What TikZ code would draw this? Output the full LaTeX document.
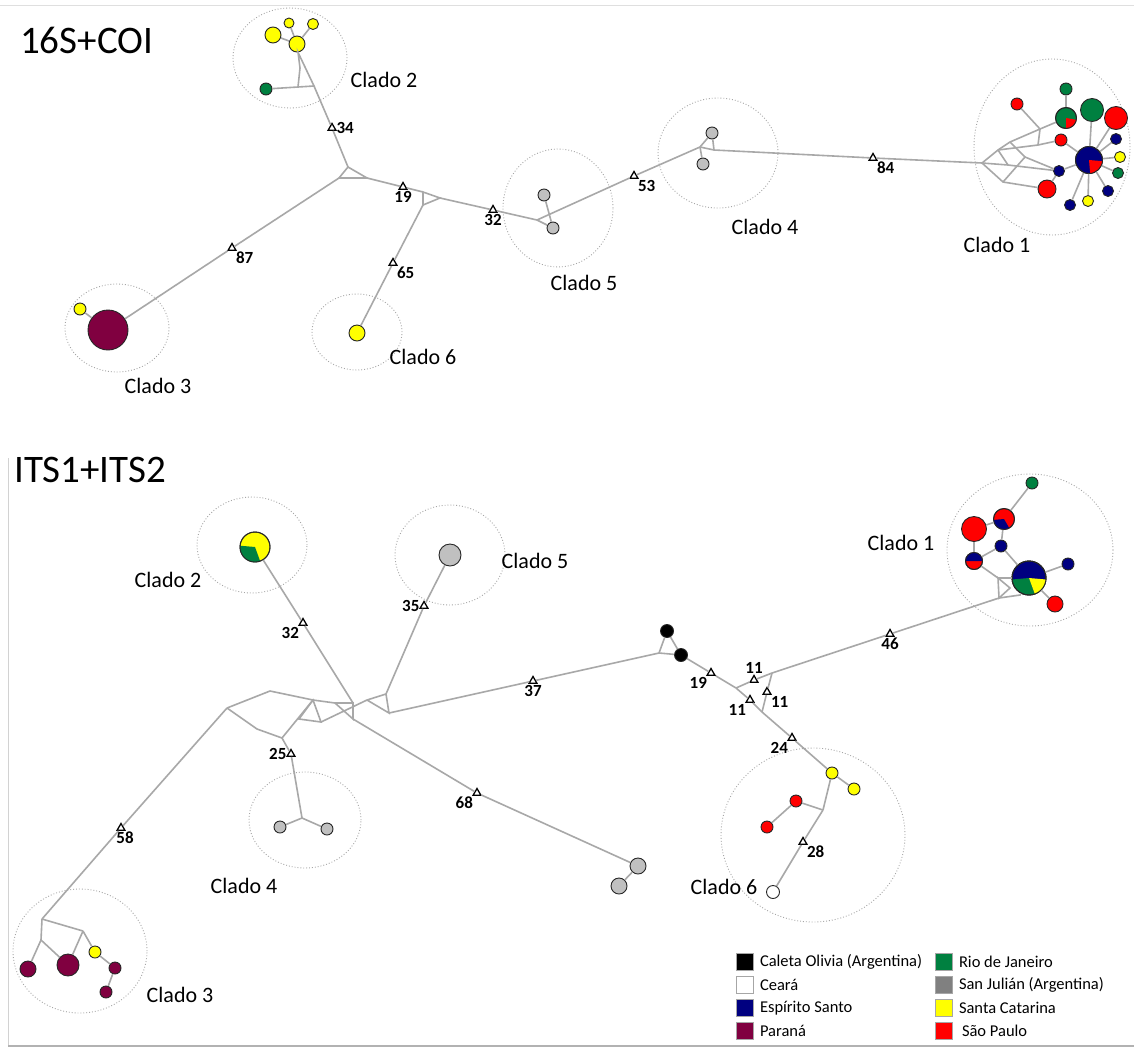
\documentclass[tikz,border=0pt]{standalone}
\usepackage{fontspec}
\setmainfont{Carlito}
\usetikzlibrary{shapes.geometric}
\definecolor{esnavy}{RGB}{0,0,128}
\definecolor{rjgreen}{RGB}{0,128,64}
\definecolor{prmaroon}{RGB}{128,0,64}
\definecolor{scyellow}{RGB}{255,255,0}
\definecolor{spred}{RGB}{255,0,0}
\definecolor{sjgray}{RGB}{192,192,192}
\definecolor{sjkey}{RGB}{128,128,128}
\definecolor{linegray}{RGB}{168,168,168}

\tikzset{
  hap/.style={circle, draw=black!85, line width=0.9pt, inner sep=0pt, minimum size=#1},
  link/.style={draw=linegray, line width=1.6pt},
  mut/.style={regular polygon, regular polygon sides=3, draw=black, fill=white, line width=1.3pt, inner sep=0pt, minimum size=9pt},
  num/.style={font=\bfseries\fontsize{17}{17}\selectfont, inner sep=1pt},
  clado/.style={draw=gray!70, dotted, line width=0.9pt},
  cladolbl/.style={font=\fontsize{22}{22}\selectfont},
  paneltitle/.style={font=\fontsize{39}{39}\selectfont, anchor=west, inner sep=0pt},
  key/.style={draw=gray!70, line width=0.6pt, minimum size=17pt, inner sep=0pt},
  keytext/.style={font=\fontsize{16.5}{16.5}\selectfont, inner sep=0pt, xshift=6pt}
}

% slice of a haplotype pie: node, colour, from, to, radius
\newcommand{\hapslice}[5]{%
  \fill[#2] (#1.center) -- ++(#3:#5pt) arc[start angle=#3, end angle=#4, radius=#5pt] -- cycle;
  \draw[black!85, line width=0.9pt] (#1.center) circle[radius=#5pt];}

\begin{document}
\begin{tikzpicture}[x=1pt, y=-1pt]
\useasboundingbox (0,0) rectangle (1134,1050);
\fill[white] (0,0) rectangle (1134,1050);

% frames
\draw[gray!25, line width=0.8pt] (0,5) -- (1134,5);
\draw[gray!35, line width=0.8pt] (8,458) -- (8,1046);
\draw[gray!60, line width=1.2pt] (8,1046) -- (1134,1046);

\node[paneltitle] (ttop) at (20,40) {16S+COI};
\node[paneltitle] (tbot) at (14,470) {ITS1+ITS2};

%%%%%%%%%%%%%%%% 16S+COI
\draw[clado] (290,58) ellipse [x radius=57pt, y radius=50pt];
\draw[clado] (1052,147) ellipse [x radius=78pt, y radius=88pt];
\draw[clado] (117,328) ellipse [x radius=52pt, y radius=44pt];
\draw[clado] (357,332) ellipse [x radius=45pt, y radius=38pt];
\draw[clado] (558,208) ellipse [x radius=55pt, y radius=59pt];
\draw[clado] (718,153) ellipse [x radius=60pt, y radius=55pt];

\node[cladolbl] (l2) at (384,80) {Clado 2};
\node[cladolbl] (l1) at (997,245) {Clado 1};
\node[cladolbl] (l5) at (584,283) {Clado 5};
\node[cladolbl] (l4) at (765,227) {Clado 4};
\node[cladolbl] (l3) at (158,386) {Clado 3};
\node[cladolbl] (l6) at (423,357) {Clado 6};

% haplotypes
\node[hap=16, fill=scyellow] (c2y1) at (273,35) {};
\node[hap=10, fill=scyellow] (c2y2) at (289,23) {};
\node[hap=11, fill=scyellow] (c2y3) at (313,24) {};
\node[hap=16, fill=scyellow] (c2y4) at (297,44) {};
\node[hap=12, fill=rjgreen] (c2g) at (266,89) {};
\node[hap=40, fill=prmaroon] (c3m) at (108,330) {};
\node[hap=12, fill=scyellow] (c3y) at (80,309) {};
\node[hap=16, fill=scyellow] (c6y) at (357,333) {};
\node[hap=12, fill=sjgray] (c5a) at (544,195) {};
\node[hap=12, fill=sjgray] (c5b) at (553,228) {};
\node[hap=12, fill=sjgray] (c4a) at (712,133) {};
\node[hap=12, fill=sjgray] (c4b) at (703,164) {};

\node[hap=12, fill=spred] (c1rTL) at (1017,104) {};
\node[hap=12, fill=rjgreen] (c1gT) at (1066,89) {};
\node[hap=21, fill=rjgreen] (c1gr) at (1066,118) {};
\hapslice{c1gr}{spred}{270}{350}{10.5}
\node[hap=23, fill=rjgreen] (c1gB) at (1092,110) {};
\node[hap=23, fill=spred] (c1rB) at (1116,118) {};
\node[hap=12, fill=spred] (c1rs) at (1061,140) {};
\node[hap=27, fill=esnavy] (c1nc) at (1089,160) {};
\hapslice{c1nc}{spred}{275}{355}{13.5}
\node[hap=11, fill=esnavy] (c1n1) at (1116,139) {};
\node[hap=11, fill=scyellow] (c1y1) at (1120,157) {};
\node[hap=11, fill=rjgreen] (c1g2) at (1118,173) {};
\node[hap=11, fill=esnavy] (c1n2) at (1108,191) {};
\node[hap=11, fill=scyellow] (c1y2) at (1088,201) {};
\node[hap=11, fill=esnavy] (c1n3) at (1070,205) {};
\node[hap=11, fill=esnavy] (c1nl) at (1059,171) {};
\node[hap=18, fill=spred] (c1rb) at (1047,189) {};

% median vectors
\coordinate (t1) at (300,68);
\coordinate (t2) at (298,87);
\coordinate (t3) at (314,86);
\coordinate (j1a) at (348,167);
\coordinate (j1b) at (339,178);
\coordinate (j1c) at (367,178);
\coordinate (j2a) at (423,192);
\coordinate (j2b) at (423,205);
\coordinate (j2c) at (440,198);
\coordinate (j3a) at (537,220);
\coordinate (j3b) at (548,215);
\coordinate (j4a) at (700,147);
\coordinate (j4b) at (714,150);
\coordinate (r1) at (982,163);
\coordinate (r2) at (998,150);
\coordinate (r3) at (1010,142);
\coordinate (r4) at (1040,129);
\coordinate (r5) at (1008,165);
\coordinate (r6) at (1025,157);
\coordinate (r7) at (1003,182);
\coordinate (r8) at (1038,145);

% mutation steps
\node[mut, label={[num]right:34}] (m34) at (332,128) {};
\node[mut, label={[num]below right:87}] (m87) at (232,248) {};
\node[mut, label={[num]below:19}] (m19) at (403,187) {};
\node[mut, label={[num]below right:65}] (m65) at (393,263) {};
\node[mut, label={[num]below:32}] (m32) at (493,210) {};
\node[mut, label={[num]below right:53}] (m53) at (634,176) {};
\node[mut, label={[num]below right:84}] (m84) at (873,158) {};

\draw[link] (c2y1) -- (c2y4);
\draw[link] (c2y2) -- (c2y4);
\draw[link] (c2y3) -- (c2y4);
\draw[link] (c2y4) -- (t1) -- (t2) -- (t3) -- cycle;
\draw[link] (c2g) -- (t2);
\draw[link] (t3) -- (m34) -- (j1a);
\draw[link] (j1a) -- (j1b) -- (j1c) -- cycle;
\draw[link] (j1b) -- (m87) -- (c3m);
\draw[link] (c3y) -- (c3m);
\draw[link] (j1c) -- (m19) -- (j2a);
\draw[link] (j2a) -- (j2b) -- (j2c) -- cycle;
\draw[link] (j2b) -- (m65) -- (c6y);
\draw[link] (j2c) -- (m32) -- (j3a);
\draw[link] (j3a) -- (c5b);
\draw[link] (j3a) -- (j3b);
\draw[link] (c5a) -- (c5b);
\draw[link] (j3b) -- (m53) -- (j4a);
\draw[link] (j4a) -- (c4a);
\draw[link] (j4b) -- (c4a);
\draw[link] (j4a) -- (j4b);
\draw[link] (j4a) -- (c4b);
\draw[link] (j4b) -- (m84) -- (r1);
\draw[link] (r1) -- (r2) -- (r3) -- (r4) -- (c1gr);
\draw[link] (r1) -- (r5) -- (c1nl);
\draw[link] (r1) -- (r7) -- (c1rb);
\draw[link] (r2) -- (r5);
\draw[link] (r3) -- (r6) -- (r7);
\draw[link] (r2) -- (r8) -- (c1rs);
\draw[link] (r4) -- (r8);
\draw[link] (c1rTL) -- (r4);
\draw[link] (r6) -- (c1nl);
\draw[link] (c1gT) -- (c1gr);
\draw[link] (c1rb) -- (c1nl);
\foreach \h in {c1gB,c1rB,c1n1,c1y1,c1g2,c1n2,c1y2,c1n3,c1rs,c1nl}
  \draw[link] (c1nc) -- (\h);

%%%%%%%%%%%%%%%% ITS1+ITS2
\draw[clado] (252,545) ellipse [x radius=55pt, y radius=48pt];
\draw[clado] (450,555) ellipse [x radius=55pt, y radius=50pt];
\draw[clado] (1030,550) ellipse [x radius=83pt, y radius=76pt];
\draw[clado] (305,820) ellipse [x radius=56pt, y radius=48pt];
\draw[clado] (813,835) ellipse [x radius=92pt, y radius=87pt];
\draw[clado] (80,951) ellipse [x radius=67pt, y radius=62pt];

\node[cladolbl] (bl2) at (168,580) {Clado 2};
\node[cladolbl] (bl5) at (535,561) {Clado 5};
\node[cladolbl] (bl1) at (901,543) {Clado 1};
\node[cladolbl] (bl4) at (244,886) {Clado 4};
\node[cladolbl] (bl6) at (724,887) {Clado 6};
\node[cladolbl] (bl3) at (180,995) {Clado 3};

% haplotypes
\node[hap=30, fill=scyellow] (b2) at (255,547) {};
\hapslice{b2}{rjgreen}{175}{290}{15}
\node[hap=22, fill=sjgray] (b5) at (450,555) {};
\node[hap=12, fill=sjgray] (b4a) at (280,827) {};
\node[hap=12, fill=sjgray] (b4b) at (327,829) {};
\node[hap=16, fill=sjgray] (g68a) at (638,866) {};
\node[hap=16, fill=sjgray] (g68b) at (619,886) {};
\node[hap=13, fill=black] (bk1) at (667,631) {};
\node[hap=13, fill=black] (bk2) at (681,655) {};
\node[hap=16, fill=prmaroon] (b3m1) at (28,969) {};
\node[hap=22, fill=prmaroon] (b3m2) at (68,965) {};
\node[hap=12, fill=scyellow] (b3y) at (95,952) {};
\node[hap=12, fill=prmaroon] (b3m3) at (115,968) {};
\node[hap=12, fill=prmaroon] (b3m4) at (106,992) {};
\node[hap=12, fill=scyellow] (b6y1) at (832,773) {};
\node[hap=12, fill=scyellow] (b6y2) at (854,789) {};
\node[hap=12, fill=spred] (b6r1) at (796,801) {};
\node[hap=12, fill=spred] (b6r2) at (767,827) {};
\node[hap=13, fill=white] (b6w) at (773,892) {};
\node[hap=12, fill=rjgreen] (bc1g) at (1032,483) {};
\node[hap=21, fill=spred] (bc1rn) at (1004,519) {};
\hapslice{bc1rn}{esnavy}{185}{300}{10.5}
\node[hap=25, fill=spred] (bc1r) at (974,529) {};
\node[hap=12, fill=esnavy] (bc1n) at (1001,546) {};
\node[hap=17, fill=spred] (bc1nr) at (974,561) {};
\hapslice{bc1nr}{esnavy}{0}{180}{8.5}
\node[hap=34, fill=esnavy] (bc1pie) at (1029,578) {};
\hapslice{bc1pie}{rjgreen}{185}{290}{17}
\hapslice{bc1pie}{scyellow}{290}{355}{17}
\node[hap=12, fill=esnavy] (bc1n2) at (1068,564) {};
\node[hap=16, fill=spred] (bc1r2) at (1055,604) {};

% median vectors
\coordinate (h1) at (227,708);
\coordinate (h2) at (270,691);
\coordinate (h3) at (313,700);
\coordinate (h4) at (257,729);
\coordinate (h5) at (282,738);
\coordinate (h6) at (299,719);
\coordinate (h7) at (321,722);
\coordinate (h8) at (335,703);
\coordinate (h9) at (353,703);
\coordinate (h10) at (353,719);
\coordinate (h11) at (367,700);
\coordinate (h12) at (386,694);
\coordinate (h13) at (389,713);
\coordinate (b4j) at (302,818);
\coordinate (b3j) at (42,919);
\coordinate (b3k) at (83,931);
\coordinate (b3l) at (41,940);
\coordinate (k0) at (659,653);
\coordinate (k1) at (736,688);
\coordinate (k2) at (772,673);
\coordinate (k3) at (762,712);
\coordinate (b6j) at (823,810);
\coordinate (bq1) at (998,578);
\coordinate (bq2) at (999,598);
\coordinate (bq3) at (1010,588);
\coordinate (bq4) at (1020,595);

% mutation steps
\node[mut, label={[num]below left:32}] (m32b) at (303,623) {};
\node[mut, label={[num]left:35}] (m35) at (424,606) {};
\node[mut, label={[num]left:25}] (m25) at (291,754) {};
\node[mut, label={[num, xshift=4pt]below:58}] (m58) at (121,828) {};
\node[mut, label={[num]below left:68}] (m68) at (477,793) {};
\node[mut, label={[num]below:37}] (m37) at (533,681) {};
\node[mut, label={[num]below left:19}] (m19b) at (711,673) {};
\node[mut, label={[num]above:11}] (m11a) at (754,680) {};
\node[mut, label={[num]below right:11}] (m11b) at (767,692) {};
\node[mut, label={[num]below left:11}] (m11c) at (750,700) {};
\node[mut, label={[num]below left:24}] (m24) at (792,738) {};
\node[mut, label={[num]below:46}] (m46) at (890,634) {};
\node[mut, label={[num]below right:28}] (m28) at (803,842) {};

\draw[link] (h1) -- (h2) -- (h3);
\draw[link] (h1) -- (h4) -- (h5) -- (h3);
\draw[link] (h3) -- (h6) -- (h7) -- cycle;
\draw[link] (h3) -- (h8) -- (h9) -- (h10) -- (h8);
\draw[link] (h7) -- (h11) -- (h12) -- (h13) -- (h11);
\draw[link] (b2) -- (m32b) -- (h9);
\draw[link] (b5) -- (m35) -- (h12);
\draw[link] (h5) -- (m25) -- (b4j);
\draw[link] (b4j) -- (b4a);
\draw[link] (b4j) -- (b4b);
\draw[link] (h10) -- (m68) -- (g68a);
\draw[link] (g68a) -- (g68b);
\draw[link] (h1) -- (m58) -- (b3j);
\draw[link] (b3j) -- (b3k);
\draw[link] (b3j) -- (b3l);
\draw[link] (b3l) -- (b3m1);
\draw[link] (b3l) -- (b3m2);
\draw[link] (b3k) -- (b3m2);
\draw[link] (b3k) -- (b3y);
\draw[link] (b3y) -- (b3m3);
\draw[link] (b3m3) -- (b3m4);
\draw[link] (h13) -- (m37) -- (k0);
\draw[link] (k0) -- (bk1);
\draw[link] (k0) -- (bk2);
\draw[link] (bk1) -- (bk2);
\draw[link] (bk2) -- (m19b) -- (k1);
\draw[link] (k1) -- (m11a) -- (k2);
\draw[link] (k2) -- (m11b) -- (k3);
\draw[link] (k1) -- (m11c) -- (k3);
\draw[link] (k3) -- (m24) -- (b6y1);
\draw[link] (b6y1) -- (b6y2);
\draw[link] (b6y1) -- (b6j);
\draw[link] (b6j) -- (b6r1);
\draw[link] (b6r1) -- (b6r2);
\draw[link] (b6j) -- (m28) -- (b6w);
\draw[link] (k2) -- (m46) -- (bq2);
\draw[link] (bq1) -- (bq2) -- (bq3) -- cycle;
\draw[link] (bq2) -- (bq4) -- (bc1pie);
\draw[link] (bq1) -- (bc1pie);
\draw[link] (bc1nr) -- (bq1);
\draw[link] (bc1g) -- (bc1rn);
\draw[link] (bc1rn) -- (bc1r);
\draw[link] (bc1rn) -- (bc1n);
\draw[link] (bc1r) -- (bc1nr);
\draw[link] (bc1n) -- (bc1nr);
\draw[link] (bc1n) -- (bc1pie);
\draw[link] (bc1pie) -- (bc1n2);
\draw[link] (bc1pie) -- (bc1r2);

% legend
\node[key, fill=black, label={[keytext]right:Caleta Olivia (Argentina)}] (kco) at (745,962) {};
\node[key, fill=white, label={[keytext]right:Ceará}] (kce) at (745,985) {};
\node[key, fill=esnavy, label={[keytext]right:Espírito Santo}] (kes) at (745,1008) {};
\node[key, fill=prmaroon, label={[keytext]right:Paraná}] (kpr) at (745,1031) {};
\node[key, fill=rjgreen, label={[keytext]right:Rio de Janeiro}] (krj) at (944,962) {};
\node[key, fill=sjkey, label={[keytext]right:San Julián (Argentina)}] (ksj) at (944,985) {};
\node[key, fill=scyellow, label={[keytext]right:Santa Catarina}] (ksc) at (944,1008) {};
\node[key, fill=spred, label={[keytext, xshift=3pt]right:São Paulo}] (ksp) at (944,1031) {};
\end{tikzpicture}
\end{document}
